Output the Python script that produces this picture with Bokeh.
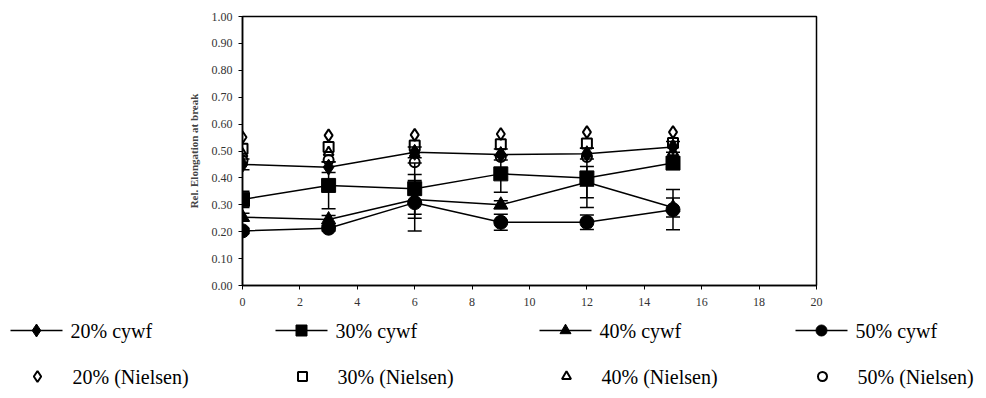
from bokeh.plotting import figure
from bokeh.models import (ColumnDataSource, Whisker, TeeHead,
                          FixedTicker, NumeralTickFormatter, Range1d)
from bokeh.core.properties import value
from bokeh.embed import file_html
from bokeh.resources import INLINE

# ---- data ----
days = [0, 3, 6, 9, 12, 15]
cywf20 = [0.45, 0.44, 0.495, 0.487, 0.49, 0.515]
cywf30 = [0.32, 0.372, 0.36, 0.415, 0.40, 0.455]
cywf40 = [0.254, 0.245, 0.32, 0.30, 0.384, 0.29]
cywf50 = [0.203, 0.213, 0.308, 0.235, 0.235, 0.282]
err20 = [0.02, 0.02, 0.02, 0.02, 0.02, 0.02]
err30 = [0.03, 0.087, 0.095, 0.068, 0.11, 0.02]
err40 = [0.015, 0.015, 0.07, 0.015, 0.058, 0.035]
err50 = [0.01, 0.01, 0.105, 0.03, 0.027, 0.075]
niel20 = [0.551, 0.558, 0.56, 0.563, 0.57, 0.57]
niel30 = [0.508, 0.515, 0.52, 0.525, 0.528, 0.53]
niel40 = [0.49, 0.495, 0.49, 0.49, 0.49, 0.495]
niel50 = [0.465, 0.467, 0.458, 0.478, 0.478, 0.48]
labels_cywf = ["20% cywf", "30% cywf", "40% cywf", "50% cywf"]
labels_niel = ["20% (Nielsen)", "30% (Nielsen)", "40% (Nielsen)", "50% (Nielsen)"]
y_ticks = [0.0, 0.1, 0.2, 0.3, 0.4, 0.5, 0.6, 0.7, 0.8, 0.9, 1.0]
x_ticks = [0, 2, 4, 6, 8, 10, 12, 14, 16, 18, 20]
y_label = "Rel. Elongation at break"

SERIF = "Liberation Serif, Times New Roman, DejaVu Serif, serif"

p = figure(width=986, height=310, output_backend="svg", toolbar_location=None,
           x_range=Range1d(0, 20), y_range=Range1d(0, 1),
           min_border_left=242, min_border_right=170, min_border_top=16,
           min_border_bottom=25)
p.grid.visible = False
p.outline_line_color = "black"
p.outline_line_width = 1.5
p.background_fill_color = "white"
p.border_fill_color = "white"

for ax in (p.xaxis, p.yaxis):
    ax.axis_line_width = 1.5
    ax.major_tick_in = 0
    ax.major_tick_out = 4
    ax.minor_tick_out = 0
    ax.minor_tick_in = 0
    ax.major_label_text_font = SERIF
    ax.major_label_text_font_size = "12px"
    ax.major_label_text_color = "#333333"

p.yaxis.ticker = FixedTicker(ticks=y_ticks)
p.yaxis.formatter = NumeralTickFormatter(format="0.00")
p.yaxis.major_label_standoff = 6
p.yaxis.axis_label = y_label
p.yaxis.axis_label_text_font = SERIF
p.yaxis.axis_label_text_font_style = "bold"
p.yaxis.axis_label_text_font_size = "11px"
p.yaxis.axis_label_standoff = 9
p.xaxis.ticker = FixedTicker(ticks=x_ticks)
p.xaxis.major_label_standoff = 8

markers = ["diamond", "square", "triangle", "circle"]
sizes = [16, 14, 14, 14]
cywf = [cywf20, cywf30, cywf40, cywf50]
errs = [err20, err30, err40, err50]
niel = [niel20, niel30, niel40, niel50]

for vals, err, mk, sz in zip(cywf, errs, markers, sizes):
    src = ColumnDataSource(dict(x=days, y=vals,
                                lo=[v - e for v, e in zip(vals, err)],
                                hi=[v + e for v, e in zip(vals, err)]))
    p.line("x", "y", source=src, line_color="black", line_width=1.5)
    w = Whisker(source=src, base="x", lower="lo", upper="hi", dimension="height",
                line_color="black", line_width=1.5,
                lower_head=TeeHead(size=14, line_color="black", line_width=1.5),
                upper_head=TeeHead(size=14, line_color="black", line_width=1.5))
    p.add_layout(w)
    p.scatter("x", "y", source=src, marker=mk, size=sz,
              fill_color="black", line_color="black")

for vals, mk, sz in zip(niel, markers, sizes):
    src = ColumnDataSource(dict(x=days, y=vals))
    p.scatter("x", "y", source=src, marker=mk, size=sz - 4,
              fill_color=None, line_color="black", line_width=2)

# ---- legend panel (separate root below the chart, pixel-like ranges) ----
lg = figure(width=986, height=88, output_backend="svg", toolbar_location=None,
            x_range=Range1d(0, 986), y_range=Range1d(88, 0),
            min_border_left=0, min_border_right=0, min_border_top=0,
            min_border_bottom=0)
lg.axis.visible = False
lg.grid.visible = False
lg.outline_line_color = None

col_left = [10, 275, 539, 795]     # legend layout: column starts
row_y = [20, 66]                   # legend layout: row centres
sw_len = 52                        # legend swatch line length

# row 1: line + filled marker
lg.segment(x0=col_left, y0=[row_y[0]] * 4,
           x1=[c + sw_len for c in col_left], y1=[row_y[0]] * 4,
           line_color="black", line_width=1.5)
lg.scatter(x=[c + sw_len / 2 for c in col_left], y=[row_y[0]] * 4,
           marker=markers, size=[s - 3 for s in sizes],
           fill_color="black", line_color="black")
lg.text(x=[c + sw_len + 8 for c in col_left], y=[row_y[0]] * 4, text=labels_cywf,
        text_font=value(SERIF), text_font_size="20px", text_color="black",
        text_baseline="middle", text_align="left")

# row 2: open marker only
lg.scatter(x=[c + sw_len / 2 + 1 for c in col_left], y=[row_y[1]] * 4,
           marker=markers, size=[s - 5 for s in sizes],
           fill_color=None, line_color="black", line_width=2)
lg.text(x=[c + sw_len + 10 for c in col_left], y=[row_y[1]] * 4, text=labels_niel,
        text_font=value(SERIF), text_font_size="20px", text_color="black",
        text_baseline="middle", text_align="left")

open("out.html", "w").write(file_html([p, lg], INLINE))
